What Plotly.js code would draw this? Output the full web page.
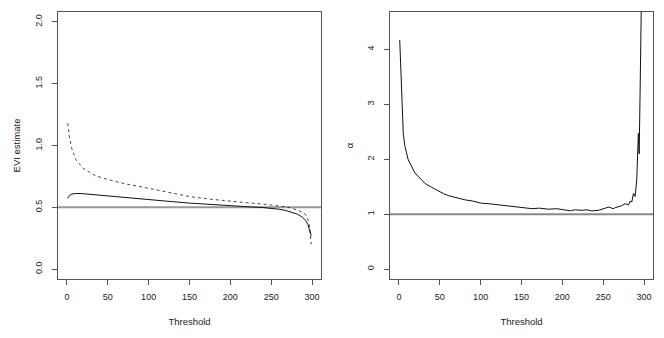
<!DOCTYPE html>
<html>
<head>
<meta charset="utf-8">
<script src="https://cdn.plot.ly/plotly-3.0.1.min.js"></script>
<style>html,body{margin:0;padding:0;background:#fff;}#chart{width:664px;height:338px;}</style>
</head>
<body>
<div id="chart"></div>
<script>
// Left panel: EVI estimates by threshold
const eviThreshold = [1, 3, 6, 11, 20, 35, 50, 70, 100, 125, 150, 175, 200, 225, 240, 250, 260, 268, 275, 282, 288, 292, 295, 297, 299];
const eviSolid     = [0.573, 0.595, 0.607, 0.612, 0.610, 0.602, 0.594, 0.582, 0.562, 0.548, 0.534, 0.522, 0.511, 0.503, 0.498, 0.493, 0.484, 0.474, 0.462, 0.445, 0.420, 0.395, 0.360, 0.320, 0.270];
const eviDashed    = [1.180, 1.070, 0.975, 0.885, 0.815, 0.755, 0.725, 0.692, 0.654, 0.618, 0.587, 0.566, 0.548, 0.534, 0.526, 0.520, 0.512, 0.504, 0.494, 0.480, 0.462, 0.440, 0.400, 0.340, 0.200];

// Right panel: alpha by threshold
const alphaThreshold = [1, 2, 3.3, 5.3, 7.4, 11.4, 19.6, 26, 32, 40, 48, 55, 60, 70, 81, 90, 101, 110, 122, 132, 142, 152, 163, 172, 183, 193, 204, 210, 215, 224, 230, 236, 244, 250, 257, 262, 265, 272, 277, 281, 283, 285, 287, 289, 291, 293, 294, 295, 296, 297];
const alphaValues    = [4.17, 3.68, 3.08, 2.47, 2.23, 1.99, 1.75, 1.66, 1.56, 1.49, 1.42, 1.37, 1.34, 1.30, 1.26, 1.24, 1.20, 1.19, 1.17, 1.15, 1.14, 1.13, 1.10, 1.11, 1.09, 1.10, 1.08, 1.06, 1.08, 1.07, 1.08, 1.06, 1.07, 1.10, 1.13, 1.10, 1.12, 1.15, 1.19, 1.17, 1.24, 1.22, 1.38, 1.32, 1.62, 2.47, 2.10, 3.08, 4.0, 5.2];

const xTicks = [0, 50, 100, 150, 200, 250, 300];
const leftYTicks = [0, 0.5, 1, 1.5, 2];
const leftYLabels = ['0.0', '0.5', '1.0', '1.5', '2.0'];
const rightYTicks = [0, 1, 2, 3, 4];
const rightYLabels = ['0', '1', '2', '3', '4'];

const font = {family: 'Liberation Sans, Arial, sans-serif', size: 9, color: '#222'};
const titleFont = {family: 'Liberation Sans, Arial, sans-serif', size: 9.5, color: '#222'};
const axisLine = '#555';

const traces = [
  {x: eviThreshold, y: eviDashed, xaxis: 'x', yaxis: 'y', mode: 'lines', line: {color: '#333', width: 0.9, dash: '3px,3px'}, hoverinfo: 'skip'},
  {x: eviThreshold, y: eviSolid, xaxis: 'x', yaxis: 'y', mode: 'lines', line: {color: '#111', width: 1}, hoverinfo: 'skip'},
  {x: alphaThreshold, y: alphaValues, xaxis: 'x2', yaxis: 'y2', mode: 'lines', line: {color: '#111', width: 1}, hoverinfo: 'skip'}
];

function xaxis(domain, anchor) {
  return {
    domain: domain, anchor: anchor, range: [-10.92, 310.92],
    tickvals: xTicks, ticks: 'outside', ticklen: 5, tickcolor: axisLine, ticklabelstandoff: 4,
    showline: true, linecolor: axisLine, linewidth: 1, mirror: true,
    showgrid: false, zeroline: false, tickfont: font,
    title: {text: 'Threshold', font: titleFont, standoff: 17}
  };
}
function yaxis(domain, anchor, range, vals, labels, title, standoff) {
  return {
    domain: domain, anchor: anchor, range: range,
    tickvals: vals, ticktext: labels, tickangle: -90,
    ticks: 'outside', ticklen: 5, tickcolor: axisLine, ticklabelstandoff: 6,
    showline: true, linecolor: axisLine, linewidth: 1, mirror: true,
    showgrid: false, zeroline: false, tickfont: font,
    title: {text: title, font: titleFont, standoff: standoff}
  };
}

const yDomain = [1 - 279 / 338, 1 - 12 / 338];
const layout = {
  width: 664, height: 338,
  margin: {l: 0, r: 0, t: 0, b: 0},
  paper_bgcolor: '#fff', plot_bgcolor: '#fff',
  showlegend: false,
  xaxis: xaxis([58 / 664, 321 / 664], 'y'),
  yaxis: yaxis(yDomain, 'x', [-0.08, 2.08], leftYTicks, leftYLabels, 'EVI estimate', 12),
  xaxis2: xaxis([390 / 664, 653 / 664], 'y2'),
  yaxis2: yaxis(yDomain, 'x2', [-0.18, 4.68], rightYTicks, rightYLabels, 'α', 11),
  shapes: [
    {type: 'line', xref: 'x domain', yref: 'y', x0: 0, x1: 1, y0: 0.5, y1: 0.5, line: {color: '#999', width: 2}, layer: 'below'},
    {type: 'line', xref: 'x2 domain', yref: 'y2', x0: 0, x1: 1, y0: 1, y1: 1, line: {color: '#888', width: 2}, layer: 'below'}
  ]
};

Plotly.newPlot('chart', traces, layout, {staticPlot: true, displayModeBar: false});
</script>
</body>
</html>
